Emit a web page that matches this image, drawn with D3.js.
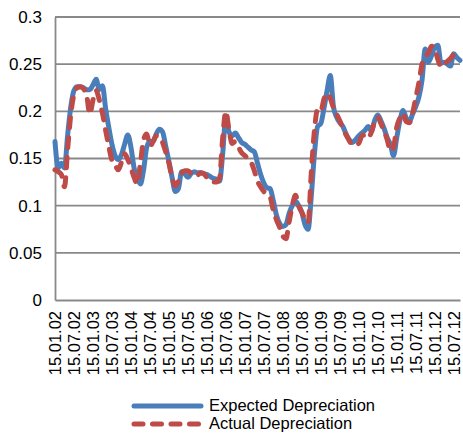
<!DOCTYPE html>
<html>
<head>
<meta charset="utf-8">
<script src="https://cdn.jsdelivr.net/npm/d3@7"></script>
<style>
  body { margin: 0; background: #fff; }
  svg text { font-family: "Liberation Sans", Arial, sans-serif; fill: #000; }
</style>
</head>
<body>
<svg id="chart"></svg>
<script>
const width = 463;
const height = 434;
const margin = { top: 17, right: 3, bottom: 134, left: 55 };

// Monthly values, Jan 2002 .. Sep 2012
const expected = [
  0.168, 0.140, 0.145, 0.140, 0.175, 0.205, 0.222, 0.226, 0.226, 0.225,
  0.223, 0.223, 0.228, 0.234, 0.223, 0.227, 0.203, 0.183, 0.165, 0.153,
  0.149, 0.154, 0.165, 0.175, 0.162, 0.140, 0.130, 0.123, 0.138, 0.162,
  0.168, 0.168, 0.176, 0.181, 0.178, 0.163, 0.147, 0.130, 0.115, 0.118,
  0.136, 0.134, 0.130, 0.134, 0.136, 0.135, 0.135, 0.134, 0.133, 0.131,
  0.129, 0.128, 0.126, 0.155, 0.195, 0.178, 0.174, 0.177, 0.172, 0.167,
  0.165, 0.162, 0.159, 0.157, 0.145, 0.133, 0.124, 0.119, 0.118, 0.105,
  0.090, 0.081, 0.078, 0.080, 0.092, 0.100, 0.105, 0.100, 0.093, 0.080,
  0.075, 0.110, 0.155, 0.184, 0.187, 0.203, 0.222, 0.238, 0.205, 0.194,
  0.188, 0.184, 0.176, 0.170, 0.167, 0.170, 0.174, 0.177, 0.180, 0.184,
  0.179, 0.190, 0.196, 0.190, 0.182, 0.172, 0.165, 0.153, 0.172, 0.190,
  0.201, 0.193, 0.189, 0.197, 0.205, 0.215, 0.233, 0.266, 0.252, 0.259,
  0.268, 0.270, 0.251, 0.252, 0.250, 0.248, 0.261, 0.257, 0.254
];

const actual = [
  0.138, 0.136, 0.133, 0.120, 0.160, 0.197, 0.218, 0.225, 0.226, 0.224,
  0.217, 0.197, 0.212, 0.222, 0.212, 0.198, 0.180, 0.163, 0.148, 0.143,
  0.138, 0.146, 0.155, 0.149, 0.140, 0.130, 0.123, 0.145, 0.170, 0.176,
  0.163, 0.168, 0.174, 0.173, 0.167, 0.157, 0.145, 0.130, 0.121, 0.126,
  0.134, 0.137, 0.137, 0.134, 0.131, 0.132, 0.135, 0.134, 0.130, 0.127,
  0.125, 0.125, 0.129, 0.172, 0.200, 0.180, 0.166, 0.168, 0.162, 0.156,
  0.153, 0.150, 0.146, 0.137, 0.126, 0.120, 0.115, 0.112, 0.109, 0.095,
  0.085, 0.077, 0.068, 0.065, 0.083, 0.100, 0.111, 0.100, 0.093, 0.086,
  0.082, 0.135, 0.180, 0.202, 0.200, 0.213, 0.219, 0.214, 0.204, 0.197,
  0.190, 0.182, 0.175, 0.169, 0.164, 0.165, 0.166, 0.174, 0.175, 0.172,
  0.178, 0.189, 0.194, 0.187, 0.179, 0.170, 0.158, 0.162, 0.183, 0.193,
  0.198, 0.189, 0.188, 0.198, 0.214, 0.230, 0.250, 0.258, 0.262, 0.269,
  0.266, 0.255, 0.247, 0.250, 0.253, 0.256, 0.260, 0.257, 0.254
];

// Tick labels every 6 months
const tickLabels = [
  "15.01.02", "15.07.02", "15.01.03", "15.07.03", "15.01.04", "15.07.04",
  "15.01.05", "15.07.05", "15.01.06", "15.07.06", "15.01.07", "15.07.07",
  "15.01.08", "15.07.08", "15.01.09", "15.07.09", "15.01.10", "15.07.10",
  "15.01.11", "15.07.11", "15.01.12", "15.07.12"
];
const tickStep = 6;
const yTicks = [0, 0.05, 0.1, 0.15, 0.2, 0.25, 0.3];

const seriesNames = ["Expected Depreciation", "Actual Depreciation"];
const colors = ["#4a7ebb", "#be4b48"];

const svg = d3.select("#chart")
  .attr("width", width)
  .attr("height", height);

const x = d3.scaleLinear()
  .domain([0, expected.length - 1])
  .range([margin.left, width - margin.right]);

const y = d3.scaleLinear()
  .domain([0, 0.3])
  .range([height - margin.bottom, margin.top]);

// Gridlines
svg.append("g")
  .selectAll("line")
  .data(yTicks.slice(1))
  .join("line")
  .attr("x1", margin.left)
  .attr("x2", width - margin.right)
  .attr("y1", d => y(d))
  .attr("y2", d => y(d))
  .attr("stroke", "#898989")
  .attr("stroke-width", 1.8);

// Y axis
const yAxis = d3.axisLeft(y).tickValues(yTicks).tickSize(0).tickPadding(13)
  .tickFormat(d => d3.format("")(+d.toFixed(2)));
const gy = svg.append("g")
  .attr("transform", `translate(${margin.left},0)`)
  .call(yAxis);
gy.select(".domain").attr("stroke", "#898989").attr("stroke-width", 1.8);
gy.selectAll("text").attr("font-size", 17).attr("fill", "#000");

// X axis
const xAxis = d3.axisBottom(x)
  .tickValues(tickLabels.map((d, i) => i * tickStep))
  .tickSize(0)
  .tickFormat((d, i) => tickLabels[i]);
const gx = svg.append("g")
  .attr("transform", `translate(0,${height - margin.bottom})`)
  .call(xAxis);
gx.select(".domain").attr("stroke", "#898989").attr("stroke-width", 1.8);
gx.selectAll("text")
  .attr("font-size", 16.5)
  .attr("fill", "#000")
  .attr("text-anchor", "end")
  .attr("transform", "rotate(-90)")
  .attr("x", -11)
  .attr("y", 0)
  .attr("dy", "0.35em");

// Lines
const line = d3.line()
  .x((d, i) => x(i))
  .y(d => y(d))
  .curve(d3.curveMonotoneX);

svg.append("path")
  .datum(expected)
  .attr("d", line)
  .attr("fill", "none")
  .attr("stroke", colors[0])
  .attr("stroke-width", 5)
  .attr("stroke-linejoin", "round")
  .attr("stroke-linecap", "round");

svg.append("path")
  .datum(actual)
  .attr("d", line)
  .attr("fill", "none")
  .attr("stroke", colors[1])
  .attr("stroke-width", 5)
  .attr("stroke-dasharray", "10,10")
  .attr("stroke-linejoin", "round")
  .attr("stroke-linecap", "round");

// Legend
const legend = svg.append("g").attr("transform", "translate(134,406)");
seriesNames.forEach((name, i) => {
  const g = legend.append("g").attr("transform", `translate(0,${i * 18})`);
  g.append("line")
    .attr("x1", 0).attr("x2", 67)
    .attr("stroke", colors[i])
    .attr("stroke-width", 5)
    .attr("stroke-linecap", "round")
    .attr("stroke-dasharray", i === 1 ? "9,9.5" : null);
  g.append("text")
    .attr("x", 75)
    .attr("dy", "0.33em")
    .attr("font-size", 16.5)
    .text(name);
});
</script>
</body>
</html>
